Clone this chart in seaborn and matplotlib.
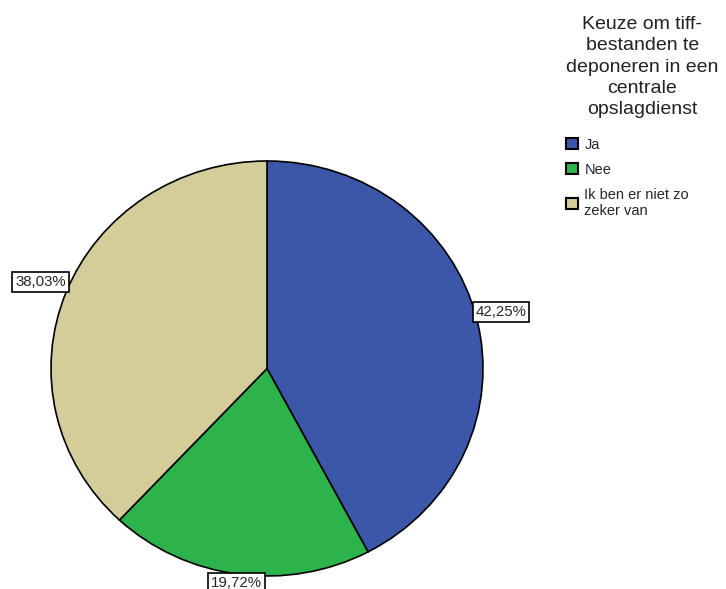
import numpy as np
import matplotlib
matplotlib.use("Agg")
from matplotlib import pyplot as plt
from matplotlib.patches import Patch
import seaborn as sns

categories = ["Ja", "Nee", "Ik ben er niet zo\nzeker van"]
percentages = [42.25, 19.72, 38.03]
colors = ["#3c57a9", "#2db34b", "#d4cd99"]
legend_title = "Keuze om tiff-\nbestanden te\ndeponeren in een\ncentrale\nopslagdienst"

sns.set_style("white")
plt.rcParams["font.family"] = ["Liberation Sans", "DejaVu Sans"]

W, H = 726, 589
fig = plt.figure(figsize=(W / 100, H / 100), dpi=100)
# pie area in pixels: x 51..483, y 161..576
ax = fig.add_axes([51 / W, 1 - 576 / H, 432 / W, 415 / H])

wedges, _ = ax.pie(percentages, colors=colors, startangle=90, counterclock=False,
                   wedgeprops=dict(edgecolor="black", linewidth=1.2))
ax.set_aspect("auto")
ax.set_xlim(-1, 1)
ax.set_ylim(-1, 1)

for w, p in zip(wedges, percentages):
    ang = np.deg2rad((w.theta1 + w.theta2) / 2)
    x, y = np.cos(ang), np.sin(ang)
    if abs(x) < 0.3:
        ha = "center"
    else:
        ha = "left" if x > 0 else "right"
    va = "top" if y < -0.9 else ("bottom" if y > 0.9 else "center")
    dy = {"right": 0.05, "left": 0.03, "center": -0.01}[ha]
    dx = {"right": 0.0, "left": -0.005, "center": -0.01}[ha]
    ax.text(x + dx, y + dy, f"{p:.2f}%".replace(".", ","),
            ha=ha, va=va, fontsize=10.8,
            bbox=dict(boxstyle="square,pad=0.2", facecolor="white", edgecolor="black", linewidth=1.2))

handles = [Patch(facecolor=c, edgecolor="black", linewidth=1.5) for c in colors]
leg = fig.legend(handles, categories, title=legend_title, loc="upper left",
                 bbox_to_anchor=(556 / W, 1 - 6 / H), frameon=False,
                 fontsize=10.5, title_fontsize=14, handlelength=0.8, handleheight=0.8,
                 handletextpad=0.45, labelspacing=0.75, borderpad=0.2)
leg._legend_box.align = "left"
leg._legend_box.sep = 14.5
title = leg.get_title()
title.set_multialignment("center")
title.set_linespacing(1.32)
title.set_color("#222222")

fig.savefig("out.png", dpi=100)
